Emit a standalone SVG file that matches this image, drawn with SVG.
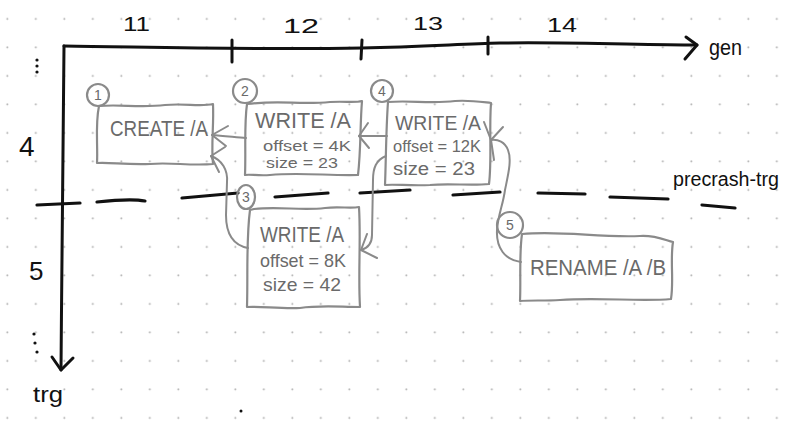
<svg xmlns="http://www.w3.org/2000/svg" width="791" height="433" viewBox="0 0 791 433">
  <style>
    .ink { fill: none; stroke: #111; stroke-width: 3; stroke-linecap: round; stroke-linejoin: round; }
    .dash { fill: none; stroke: #111; stroke-width: 3.2; stroke-linecap: round; }
    .box { fill: none; stroke: #8a8a8a; stroke-width: 2.2; stroke-linejoin: round; stroke-linecap: round; }
    .conn { fill: none; stroke: #8a8a8a; stroke-width: 2; stroke-linecap: round; stroke-linejoin: round; }
    .lbl { font-family: "Liberation Sans", "DejaVu Sans", sans-serif; fill: #111; }
    .ntxt { font-family: "Liberation Sans", "DejaVu Sans", sans-serif; fill: #6a6a6a; }
    .num { font-family: "Liberation Sans", "DejaVu Sans", sans-serif; fill: #6a6a6a; font-size: 14px; text-anchor: middle; }
  </style>
  <defs>
    <pattern id="grid" patternUnits="userSpaceOnUse" width="28.5" height="28.5">
      <circle cx="7.3" cy="19" r="1" fill="#b0b0b0"/>
    </pattern>
  </defs>
  <rect width="791" height="433" fill="#fff"/>
  <rect width="791" height="433" fill="url(#grid)"/>

  <!-- axes -->
  <g id="axes">
    <path class="ink" d="M64,46 C150,47 250,50 362,48 C420,47 460,44 500,43 C580,42 640,45 697,45"/>
    <path class="ink" d="M686,37 L697,45 L685,59"/>
    <path class="ink" d="M232,40 L232,62"/>
    <path class="ink" d="M362,40 L361,59"/>
    <path class="ink" d="M488,37 L488,54"/>
    <path class="ink" d="M64,46 C63,120 62,250 61,370"/>
    <path class="ink" d="M52,357 L61,370 L73,358"/>
    <circle cx="37" cy="60" r="1.6" fill="#111"/>
    <circle cx="37" cy="66" r="1.6" fill="#111"/>
    <circle cx="37" cy="72" r="1.6" fill="#111"/>
    <circle cx="34" cy="334" r="1.6" fill="#111"/>
    <circle cx="35" cy="343" r="1.6" fill="#111"/>
    <circle cx="37" cy="352" r="1.6" fill="#111"/>
    <circle cx="241" cy="411" r="1.5" fill="#111"/>
    <text class="lbl" x="123" y="31" font-size="20" textLength="27" lengthAdjust="spacingAndGlyphs">11</text>
    <text class="lbl" x="283" y="33" font-size="20" textLength="36" lengthAdjust="spacingAndGlyphs">12</text>
    <text class="lbl" x="413" y="30" font-size="19" textLength="30" lengthAdjust="spacingAndGlyphs">13</text>
    <text class="lbl" x="547" y="32" font-size="21" textLength="30" lengthAdjust="spacingAndGlyphs">14</text>
    <text class="lbl" x="709" y="55" font-size="22" textLength="33" lengthAdjust="spacingAndGlyphs">gen</text>
    <text class="lbl" x="33" y="402" font-size="22" textLength="30" lengthAdjust="spacingAndGlyphs">trg</text>
    <text class="lbl" x="19" y="156" font-size="28">4</text>
    <text class="lbl" x="29" y="280" font-size="26">5</text>
    <text class="lbl" x="673" y="186" font-size="20" textLength="106" lengthAdjust="spacingAndGlyphs">precrash-trg</text>
  </g>

  <!-- precrash-trg dashed line -->
  <g id="precrash-line">
    <path class="dash" d="M37,205 L80,203"/>
    <path class="dash" d="M97,202 C115,200 135,199 145,201"/>
    <path class="dash" d="M182,198 L238,193"/>
    <path class="dash" d="M275,197 L328,193"/>
    <path class="dash" d="M360,193 L410,190"/>
    <path class="dash" d="M453,195 L500,192"/>
    <path class="dash" d="M538,193 L585,194"/>
    <path class="dash" d="M610,197 L668,199"/>
    <path class="dash" d="M702,205 L735,208"/>
  </g>

  <!-- nodes -->
  <g id="node1">
    <path class="box" d="M99,106 C120,104 140,108 165,105 C185,103 200,107 213,104 C214,125 211,145 213,164 C190,166 170,162 150,164 C125,165 110,162 97,163 C98,145 95,125 99,106 Z"/>
    <circle class="box" cx="98" cy="95" r="11" fill="#fff"/>
    <text class="num" x="98" y="100">1</text>
    <text class="ntxt" x="110" y="136" font-size="22" textLength="98" lengthAdjust="spacingAndGlyphs">CREATE /A</text>
  </g>

  <g id="node2">
    <path class="box" d="M247,104 C280,100 300,105 330,102 C345,101 355,103 362,101 C360,125 361,150 358,175 C330,176 300,172 270,175 C258,176 250,174 245,175 C246,150 244,125 247,104 Z"/>
    <circle class="box" cx="245" cy="91" r="12" fill="#fff"/>
    <text class="num" x="245" y="96">2</text>
    <text class="ntxt" x="255" y="128" font-size="22" textLength="96" lengthAdjust="spacingAndGlyphs">WRITE /A</text>
    <text class="ntxt" x="263" y="151" font-size="15" textLength="88" lengthAdjust="spacingAndGlyphs">offset = 4K</text>
    <text class="ntxt" x="266" y="168" font-size="15" textLength="72" lengthAdjust="spacingAndGlyphs">size = 23</text>
  </g>

  <g id="node3">
    <path class="box" d="M254,209 C280,206 300,211 325,208 C340,206 350,209 359,207 C361,240 358,275 360,307 C340,307 320,305 300,308 C280,309 260,306 247,307 C248,275 246,240 250,210 Z"/>
    <ellipse class="box" cx="246" cy="197" rx="9" ry="12" fill="#fff"/>
    <text class="num" x="246" y="202">3</text>
    <text class="ntxt" x="260" y="242" font-size="22" textLength="84" lengthAdjust="spacingAndGlyphs">WRITE /A</text>
    <text class="ntxt" x="260" y="267" font-size="19" textLength="86" lengthAdjust="spacingAndGlyphs">offset = 8K</text>
    <text class="ntxt" x="263" y="291" font-size="19" textLength="78" lengthAdjust="spacingAndGlyphs">size = 42</text>
  </g>

  <g id="node4">
    <path class="box" d="M388,102 C410,100 430,104 455,101 C470,100 482,102 491,103 C489,130 492,160 489,184 C470,186 450,183 430,185 C410,186 395,184 385,185 C386,160 386,130 388,102 Z"/>
    <circle class="box" cx="382" cy="91" r="11" fill="#fff"/>
    <text class="num" x="382" y="96">4</text>
    <text class="ntxt" x="395" y="130" font-size="20" textLength="86" lengthAdjust="spacingAndGlyphs">WRITE /A</text>
    <text class="ntxt" x="393" y="152" font-size="16" textLength="88" lengthAdjust="spacingAndGlyphs">offset = 12K</text>
    <text class="ntxt" x="393" y="175" font-size="18" textLength="82" lengthAdjust="spacingAndGlyphs">size = 23</text>
  </g>

  <g id="node5">
    <path class="box" d="M522,234 C560,230 600,238 640,236 C655,235 665,240 673,242 C670,260 674,280 671,299 C640,302 600,297 560,300 C545,301 530,300 520,301 C521,280 519,255 522,234 Z"/>
    <circle class="box" cx="510" cy="225" r="13" fill="#fff"/>
    <text class="num" x="510" y="230">5</text>
    <text class="ntxt" x="530" y="275" font-size="22" textLength="136" lengthAdjust="spacingAndGlyphs">RENAME /A /B</text>
  </g>

  <!-- connectors -->
  <g id="connectors">
    <path class="conn" d="M246,138 C235,137 222,136 212,135"/>
    <path class="conn" d="M228,126 L212,135 L226,146"/>

    <path class="conn" d="M248,248 C232,245 226,232 226,215 L227,182 C228,170 222,160 211,156"/>
    <path class="conn" d="M225,147 L211,156 L219,172"/>

    <path class="conn" d="M387,136 C378,136 368,136 359,136"/>
    <path class="conn" d="M368,123 L359,136 L369,148"/>

    <path class="conn" d="M386,156 C376,160 373,168 373,180 L372,235 C372,243 368,248 361,250"/>
    <path class="conn" d="M367,234 L361,250 L377,258"/>

    <path class="conn" d="M521,262 C505,260 496,248 497,230 C498,215 503,205 505,190 C508,175 512,160 508,150 C505,142 498,139 491,140"/>
    <path class="conn" d="M484,122 L491,140 L503,127 M491,140 L494,160"/>
  </g>
</svg>
